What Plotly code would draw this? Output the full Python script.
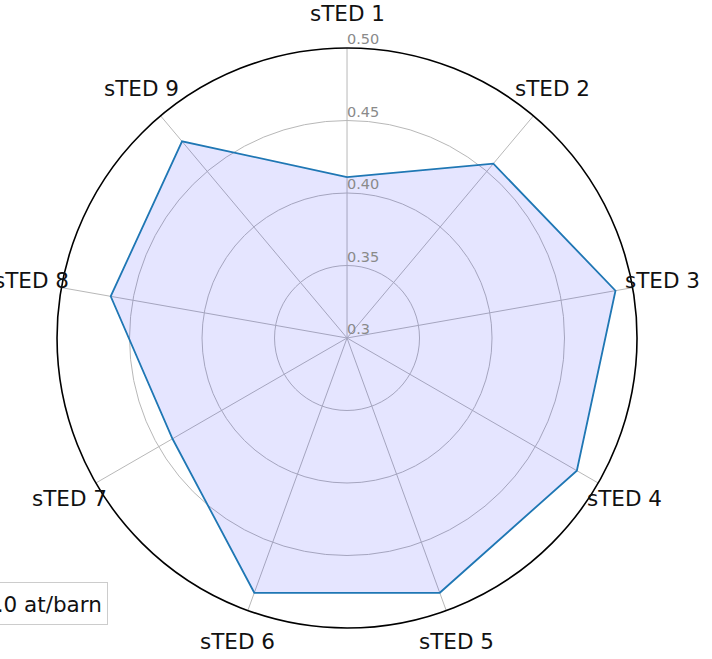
import math
import plotly.graph_objects as go

# Radar chart of sTED values
categories = ["sTED 1", "sTED 2", "sTED 3", "sTED 4", "sTED 5",
              "sTED 6", "sTED 7", "sTED 8", "sTED 9"]
values = [0.411, 0.457, 0.488, 0.483, 0.487, 0.487, 0.439, 0.4655, 0.477]
series_name = "1.0 at/barn"

r_ticks = [0.3, 0.35, 0.40, 0.45, 0.50]
r_tick_labels = ["0.3", "0.35", "0.40", "0.45", "0.50"]
r_range = [0.3, 0.5]
# category names sit centred just outside the rim
label_radius_x = 0.5207
label_radius_y = 0.5234

FONT = "DejaVu Sans"
DOM_X = [0.0801, 0.8947]
DOM_Y = [0.0470, 0.9272]

fig = go.Figure()

# closed polygon
fig.add_trace(go.Scatterpolar(
    r=values + values[:1],
    theta=categories + categories[:1],
    mode="lines",
    fill="toself",
    fillcolor="rgba(0,0,255,0.1)",
    line=dict(color="#1f77b4", width=1.8),
    name=series_name,
    showlegend=True,
))

# radial tick labels along the first spoke
fig.add_trace(go.Scatterpolar(
    r=r_ticks,
    theta=[categories[0]] * len(r_ticks),
    mode="text",
    text=r_tick_labels,
    textposition="top right",
    textfont=dict(family=FONT, size=14.5, color="#8a8a8a"),
    cliponaxis=False,
    showlegend=False,
    hoverinfo="skip",
))

# category names centred on each spoke direction, outside the outer circle
cx = sum(DOM_X) / 2
cy = sum(DOM_Y) / 2 + 0.0015
span = r_range[1] - r_range[0]
rx = (DOM_X[1] - DOM_X[0]) / 2 * (label_radius_x - r_range[0]) / span
ry = (DOM_Y[1] - DOM_Y[0]) / 2 * (label_radius_y - r_range[0]) / span
step = 360 / len(categories)
for i, name in enumerate(categories):
    a = math.radians(i * step)
    fig.add_annotation(
        x=cx + rx * math.sin(a), y=cy + ry * math.cos(a),
        xref="paper", yref="paper",
        text=name, showarrow=False,
        xanchor="center", yanchor="middle",
        font=dict(family=FONT, size=21.5, color="#111111"),
    )

fig.update_layout(
    width=712,
    height=659,
    margin=dict(l=0, r=0, t=0, b=0, autoexpand=False),
    paper_bgcolor="white",
    plot_bgcolor="white",
    font=dict(family=FONT, size=21.5, color="#111111"),
    polar=dict(
        domain=dict(x=DOM_X, y=DOM_Y),
        bgcolor="white",
        radialaxis=dict(
            range=r_range,
            tickvals=r_ticks,
            angle=90,
            showticklabels=False,
            showline=False,
            ticks="",
            gridcolor="#b8b8b8",
            gridwidth=1,
        ),
        angularaxis=dict(
            categoryarray=categories,
            direction="clockwise",
            rotation=90,
            showticklabels=False,
            ticks="",
            showline=True,
            linecolor="black",
            linewidth=1.6,
            gridcolor="#b8b8b8",
            gridwidth=1,
        ),
    ),
    legend=dict(
        x=0.1517,
        xanchor="right",
        y=0.0845,
        yanchor="middle",
        bgcolor="rgba(255,255,255,0.85)",
        bordercolor="#cccccc",
        borderwidth=1,
        font=dict(family=FONT, size=21.5, color="#111111"),
    ),
)

fig.write_html("out.html")
